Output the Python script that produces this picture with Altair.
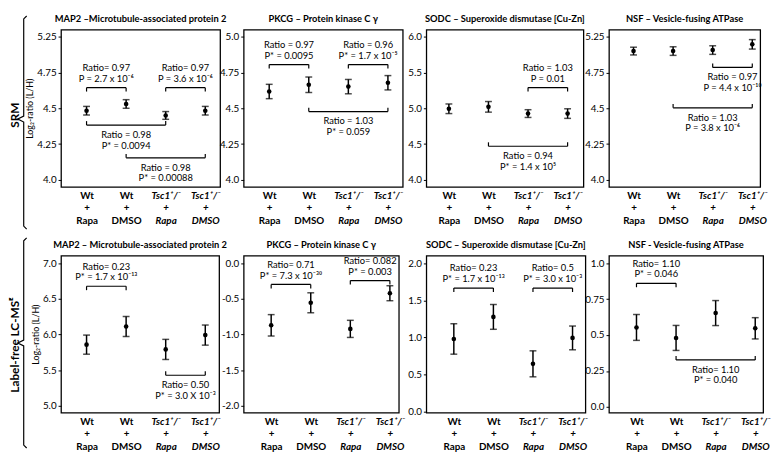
import altair as alt
import pandas as pd

FONT = "Lato"
HEIGHT = 160

GROUPS = [1, 2, 3, 4]
GROUP_LINES = [["Wt", "+", "Rapa"], ["Wt", "+", "DMSO"],
               ["Tsc1⁺/⁻", "+", "Rapa"], ["Tsc1⁺/⁻", "+", "DMSO"]]
Y_TITLE = "Log₂-ratio (L/H)"
ROW_LABELS = ["SRM", "Label-free LC-MSᴱ"]

# ---------------- SRM row ----------------
srm_titles = ["MAP2 –Microtubule-associated protein 2",
              "PKCG – Protein kinase C γ",
              "SODC – Superoxide dismutase [Cu-Zn]",
              "NSF – Vesicle-fusing ATPase"]
srm_means = [[4.483, 4.530, 4.450, 4.483],
             [4.617, 4.664, 4.651, 4.678],
             [4.993, 5.020, 4.926, 4.926],
             [4.899, 4.899, 4.906, 4.946]]
srm_errs = [[0.030, 0.030, 0.027, 0.030],
            [0.050, 0.054, 0.050, 0.050],
            [0.067, 0.074, 0.054, 0.067],
            [0.027, 0.030, 0.030, 0.033]]
srm_yticks = [[4.0, 4.25, 4.5, 4.75, 5.0],
              [4.0, 4.25, 4.5, 4.75, 5.0],
              [4.0, 4.5, 5.0, 5.5, 6.0],
              [4.0, 4.25, 4.5, 4.75, 5.0]]
srm_ylabels = [["4.0", "4.25", "4.5", "4.75", "5.25"],
               ["4.0", "4.25", "4.5", "4.75", "5.0"],
               ["4.0", "4.5", "5.0", "5.5", "6.0"],
               ["4.0", "4.25", "4.5", "4.75", "5.25"]]
# (group from, group to, bracket level, hooks side, line 1, line 2)
srm_brackets = [
    [(1, 2, 4.644, "down", "Ratio= 0.97", "P = 2.7 x 10⁻⁶"),
     (3, 4, 4.644, "down", "Ratio= 0.97", "P = 3.6 x 10⁻⁶"),
     (1, 3, 4.383, "up", "Ratio = 0.98", "P* = 0.0094"),
     (2, 4, 4.154, "up", "Ratio = 0.98", "P* = 0.00088")],
    [(1, 2, 4.805, "down", "Ratio = 0.97", "P* = 0.0095"),
     (3, 4, 4.805, "down", "Ratio = 0.96", "P* = 1.7 x 10⁻⁵"),
     (2, 4, 4.477, "up", "Ratio = 1.03", "P* = 0.059")],
    [(3, 4, 5.289, "down", "Ratio = 1.03", "P = 0.01"),
     (2, 4, 4.470, "up", "Ratio = 0.94", "P* = 1.4 x 10⁵")],
    [(3, 4, 4.785, "up", "Ratio = 0.97", "P = 4.4 x 10⁻¹⁰"),
     (2, 4, 4.503, "up", "Ratio = 1.03", "P = 3.8 x 10⁻⁶")],
]

# ---------------- Label-free LC-MSE row ----------------
lc_titles = ["MAP2 –  Microtubule-associated protein 2",
             "PKCG – Protein kinase C γ",
             "SODC – Superoxide dismutase [Cu-Zn]",
             "NSF - Vesicle-fusing ATPase"]
lc_means = [[5.859, 6.114, 5.792, 5.993],
            [-0.870, -0.554, -0.920, -0.420],
            [0.980, 1.277, 0.645, 0.994],
            [0.553, 0.480, 0.653, 0.547]]
lc_errs = [[0.134, 0.141, 0.141, 0.141],
           [0.150, 0.140, 0.120, 0.105],
           [0.205, 0.167, 0.175, 0.160],
           [0.090, 0.087, 0.087, 0.074]]
lc_yticks = [[5.0, 5.5, 6.0, 6.5, 7.0],
             [-2.0, -1.5, -1.0, -0.5, 0.0],
             [0.0, 0.5, 1.0, 1.5, 2.0],
             [0.0, 0.25, 0.5, 0.75, 1.0]]
lc_ylabels = [["5.0", "5.5", "6.0", "6.5", "7.0"],
              ["-2.0", "-1.5", "-1.0", "-0.5", "0.0"],
              ["0.0", "0.5", "1.0", "1.5", "2.0"],
              ["0.0", "0.25", "0.5", "0.75", "1.0"]]
lc_brackets = [
    [(1, 2, 6.678, "down", "Ratio= 0.23", "P* = 1.7 x 10⁻¹³"),
     (3, 4, 5.430, "up", "Ratio= 0.50", "P* = 3.0 X 10⁻³")],
    [(1, 2, -0.297, "down", "Ratio= 0.71", "P* = 7.3 x 10⁻³⁰"),
     (3, 4, -0.243, "down", "Ratio= 0.082", "P* = 0.003")],
    [(1, 2, 1.665, "down", "Ratio= 0.23", "P* = 1.7 x 10⁻¹³"),
     (3, 4, 1.665, "down", "Ratio= 0.5", "P* = 3.0 x 10⁻³")],
    [(1, 2, 0.860, "down", "Ratio= 1.10", "P* = 0.046"),
     (2, 4, 0.327, "up", "Ratio= 1.10", "P* = 0.040")],
]

# ---------------- layout (style) ----------------
srm_widths = [162, 162, 160, 154]
srm_xdoms = [[0.355, 4.375], [0.355, 4.375], [0.43, 4.40], [0.38, 4.20]]
srm_ydoms = [[3.952, 5.048], [3.952, 5.048], [3.904, 6.096], [3.952, 5.048]]
lc_widths = [161, 158, 162, 157]
lc_xdoms = [[0.355, 4.35], [0.305, 4.226], [0.305, 4.325], [0.305, 4.20]]
lc_ydoms = [[4.905, 7.108], [-2.095, 0.108], [-0.013, 2.103], [-0.04, 1.053]]
TITLE_GAP = 11  # px above the plot for the panel title centre
# brace geometry in px relative to the first plot (x from left, y from top)
srm_brace = dict(xl=-38, xc=-35, xt=-44, yt=-14, ym=91, yb=203, lx=-47, ly=87)
lc_brace = dict(xl=-38, xc=-35, xt=-44, yt=-18, ym=89, yb=196, lx=-47, ly=91)

x_label_expr = " : ".join(
    f"datum.value == {g} ? [{', '.join(repr(s) for s in lines)}]"
    for g, lines in zip(GROUPS[:-1], GROUP_LINES[:-1])
) + " : [" + ", ".join(repr(s) for s in GROUP_LINES[-1]) + "]"

XAXIS = alt.Axis(values=GROUPS, labelExpr=x_label_expr, ticks=False, domain=False,
                 grid=False, labelAngle=0, labelFontSize=10, labelFontWeight="bold",
                 labelLineHeight=12.5, labelPadding=4, labelOverlap=False,
                 labelFlush=False, labelFont=FONT, labelColor="black",
                 labelFontStyle={"condition": {"test": "datum.value >= 3", "value": "italic"},
                                 "value": "normal"})


def y_label_expr(vals, labs):
    parts = [f"abs(datum.value - ({v})) < 1e-6 ? '{l}'" for v, l in zip(vals, labs)]
    return " : ".join(parts) + " : datum.label"


def make_panel(title, means, errs, yticks, ylabels, brackets, width, xdom, ydom,
               ytitle=None, row_label=None, brace=None):
    span = ydom[1] - ydom[0]
    upx = span / HEIGHT
    ppx = width / (xdom[1] - xdom[0])
    xs = alt.Scale(domain=xdom, nice=False, zero=False)
    ys = alt.Scale(domain=ydom, nice=False, zero=False)
    yaxis = alt.Axis(values=yticks, labelExpr=y_label_expr(yticks, ylabels),
                     tickSize=3, labelPadding=2, labelFontSize=10, domain=False,
                     grid=False, labelFont=FONT, labelColor="black", tickColor="black",
                     titleFont=FONT, titleFontSize=9, titleFontWeight="normal",
                     titleColor="black", titlePadding=2)

    def X(f):
        return alt.X(f"{f}:Q", scale=xs, axis=XAXIS, title=None)

    def Y(f):
        return alt.Y(f"{f}:Q", scale=ys, axis=yaxis, title=ytitle)

    def dx(px):
        return xdom[0] + px / ppx

    def dy(py):
        return ydom[1] - py * upx

    pts = pd.DataFrame({"g": GROUPS, "m": means, "e": errs})
    pts["lo"] = pts["m"] - pts["e"]
    pts["hi"] = pts["m"] + pts["e"]

    br = pd.DataFrame(brackets, columns=["g1", "g2", "level", "side", "t1", "t2"])
    br["xc"] = (br["g1"] + br["g2"]) / 2
    hook = 4 * upx
    hk_rows = []
    for _, r in br.iterrows():
        d = -hook if r["side"] == "down" else hook
        for g in (r["g1"], r["g2"]):
            hk_rows.append({"g": g, "y1": r["level"], "y2": r["level"] + d})
    hk = pd.DataFrame(hk_rows)

    tdf = pd.DataFrame({"tx": [(xdom[0] + xdom[1]) / 2], "ty": [dy(-TITLE_GAP)],
                        "t": [title]})

    layers = [
        alt.Chart(br).mark_rule(color="black", strokeWidth=1.2).encode(
            x=X("g1"), x2="g2", y=Y("level")),
        alt.Chart(hk).mark_rule(color="black", strokeWidth=1.2).encode(
            x=X("g"), y=Y("y1"), y2="y2"),
        alt.Chart(pts).mark_rule(color="black", strokeWidth=1.5).encode(
            x=X("g"), y=Y("lo"), y2="hi"),
        alt.Chart(pts).mark_tick(color="black", orient="horizontal", size=7,
                                 thickness=1.5).encode(x=X("g"), y=Y("lo")),
        alt.Chart(pts).mark_tick(color="black", orient="horizontal", size=7,
                                 thickness=1.5).encode(x=X("g"), y=Y("hi")),
        alt.Chart(pts).mark_circle(color="black", size=22, opacity=1).encode(
            x=X("g"), y=Y("m")),
        alt.Chart(tdf).mark_text(font=FONT, fontSize=9.5, fontWeight="bold",
                                 color="black", baseline="middle").encode(
            x=X("tx"), y=Y("ty"), text="t:N"),
    ]
    for side, offs in (("down", (-20, -9)), ("up", (10, 21))):
        for col, off in zip(("t1", "t2"), offs):
            layers.append(
                alt.Chart(br).transform_filter(alt.datum.side == side)
                .mark_text(font=FONT, fontSize=9.5, color="black", dy=off,
                           baseline="middle")
                .encode(x=X("xc"), y=Y("level"), text=f"{col}:N"))

    if brace is not None:
        b = brace
        bx = [b["xc"], b["xl"], b["xl"], b["xt"], b["xl"], b["xl"], b["xc"]]
        by = [b["yt"], b["yt"] + 3, b["ym"] - 3, b["ym"], b["ym"] + 3, b["yb"] - 3, b["yb"]]
        bdf = pd.DataFrame({"i": range(len(bx)), "bx": [dx(v) for v in bx],
                            "by": [dy(v) for v in by]})
        layers.append(alt.Chart(bdf).mark_line(color="black", strokeWidth=1.2).encode(
            x=X("bx"), y=Y("by"), order="i:Q"))
        ldf = pd.DataFrame({"lx": [dx(b["lx"])], "ly": [dy(b["ly"])], "t": [row_label]})
        layers.append(alt.Chart(ldf).mark_text(font=FONT, fontSize=12, fontWeight="bold",
                                               angle=270, color="black",
                                               baseline="middle", align="center").encode(
            x=X("lx"), y=Y("ly"), text="t:N"))

    return alt.layer(*layers).properties(width=width, height=HEIGHT)


panels = []
for i in range(4):
    panels.append(make_panel(srm_titles[i], srm_means[i], srm_errs[i], srm_yticks[i],
                             srm_ylabels[i], srm_brackets[i], srm_widths[i], srm_xdoms[i],
                             srm_ydoms[i],
                             ytitle=Y_TITLE if i == 0 else None,
                             row_label=ROW_LABELS[0] if i == 0 else None,
                             brace=srm_brace if i == 0 else None))
for i in range(4):
    panels.append(make_panel(lc_titles[i], lc_means[i], lc_errs[i], lc_yticks[i],
                             lc_ylabels[i], lc_brackets[i], lc_widths[i], lc_xdoms[i],
                             lc_ydoms[i],
                             ytitle=Y_TITLE if i == 0 else None,
                             row_label=ROW_LABELS[1] if i == 0 else None,
                             brace=lc_brace if i == 0 else None))

chart = alt.concat(*panels, columns=4, spacing={"row": 70, "column": 24},
                   align="none", bounds="flush", padding=0,
                   background="white").configure(font=FONT).configure_view(
    stroke="black", strokeWidth=1.3)

chart.save("out.html", embed_options={"renderer": "svg", "actions": False})
